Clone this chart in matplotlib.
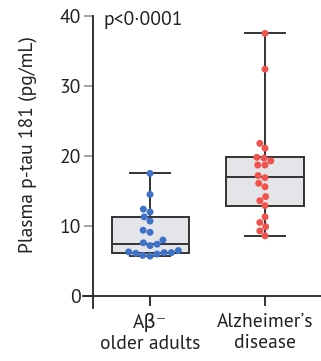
import matplotlib
matplotlib.use('Agg')
import matplotlib.pyplot as plt
import seaborn as sns
import pandas as pd

# values (pg/mL)
ab_neg = [17.5, 14.5, 12.4, 12.0, 11.3, 10.7, 9.4, 9.1, 8.0, 7.6, 7.4, 7.2,
          6.5, 6.3, 6.2, 6.2, 6.1, 6.0, 5.8, 5.7]
alz = [37.5, 32.4, 21.8, 21.1, 19.8, 19.7, 19.3, 18.7, 18.7, 17.2, 16.9, 16.1,
       15.6, 14.2, 13.6, 12.9, 11.3, 10.5, 9.9, 9.3, 8.6]

groups = ['Aβ⁻\nolder adults', "Alzheimer’s\ndisease"]
colors = ['#3d72c8', '#f0524c']

# box summary as drawn (min, q1, median, q3, max)
box_lo = [5.7, 8.6]
box_q1 = [6.2, 12.9]
box_med = [7.5, 17.0]
box_q3 = [11.3, 19.8]
box_hi = [17.5, 37.5]

y_ticks = [0, 10, 20, 30, 40]

plt.rcParams['font.family'] = ['PT Sans', 'DejaVu Sans']

fig = plt.figure(figsize=(3.21, 3.61), dpi=100)
ax = fig.add_axes([0.2586, 0.147, 0.7414, 0.809])

stats = []
for i in range(2):
    stats.append(dict(whislo=box_lo[i], q1=box_q1[i], med=box_med[i],
                      q3=box_q3[i], whishi=box_hi[i], fliers=[]))
line_kw = dict(color='#333333', linewidth=1.4)
ax.bxp(stats, positions=[0, 1], widths=0.67, patch_artist=True,
       showfliers=False,
       boxprops=dict(facecolor='#e4e5e8', edgecolor='#333333', linewidth=1.4),
       medianprops=line_kw, whiskerprops=line_kw, capprops=line_kw,
       capwidths=0.34, zorder=1)

df = pd.DataFrame({'g': [groups[0]] * len(ab_neg) + [groups[1]] * len(alz),
                   'v': ab_neg + alz})
sns.swarmplot(data=df, x='g', y='v', hue='g', palette=colors, size=5,
              order=groups, ax=ax, legend=False, zorder=3,
              edgecolor=None, linewidth=0)

ax.set_xlim(-0.583, 1.487)
ax.set_ylim(-1.7, 40)
ax.spines['top'].set_visible(False)
ax.spines['right'].set_visible(False)
ax.spines['bottom'].set_position(('data', 0))
ax.spines['left'].set_position(('data', -0.5))
ax.spines['left'].set_bounds(-1.7, 40)
for s in ['left', 'bottom']:
    ax.spines[s].set_linewidth(1.3)
    ax.spines[s].set_color('#222222')

ax.set_yticks(y_ticks)
ax.set_xticks([0, 1])
ax.set_xticklabels(groups)
ax.tick_params(axis='y', length=6.5, width=1.3, color='#9a9a9a',
               labelsize=14, labelcolor='#222222', pad=2)
ax.tick_params(axis='x', length=7, width=1.3, color='#222222',
               labelsize=14, labelcolor='#222222', pad=5.5)
# end ticks join the spine, drawn dark
for t in (ax.yaxis.get_major_ticks()[0], ax.yaxis.get_major_ticks()[-1]):
    t.tick1line.set_color('#222222')

ax.set_xlabel('')
ax.set_ylabel('Plasma p-tau 181 (pg/mL)', fontsize=14, color='#222222')
ax.yaxis.set_label_coords(-0.193, 0.558)

ax.text(0.088, 0.985, 'p<0·0001', transform=ax.transAxes, fontsize=14,
        color='#222222', va='center', ha='left')

fig.savefig('out.png', dpi=100)
